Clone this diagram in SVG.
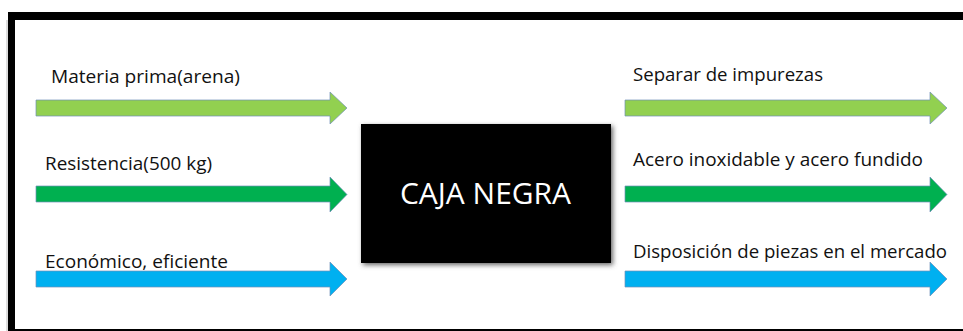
<svg xmlns="http://www.w3.org/2000/svg" width="963" height="331" viewBox="0 0 963 331">
  <defs>
    <style>
      .lbl { font-family: "Open Sans", "Liberation Sans", sans-serif; font-size: 18px; fill: #111111; }
      .box-lbl { font-family: "Open Sans", "Liberation Sans", sans-serif; font-size: 29px; fill: #ffffff; }
      .arr { stroke: #6f8fb8; stroke-width: 1; stroke-opacity: 0.7; stroke-linejoin: miter; }
      .lg { fill: #92D050; }
      .dg { fill: #00B050; }
      .bl { fill: #00B0F0; }
    </style>
    <filter id="glow" x="-10%" y="-15%" width="120%" height="130%">
      <feGaussianBlur in="SourceAlpha" stdDeviation="2.5"/>
      <feOffset dx="1.5" dy="1.5" result="b"/>
      <feFlood flood-color="#555555" flood-opacity="0.9"/>
      <feComposite in2="b" operator="in"/>
      <feMerge><feMergeNode/><feMergeNode in="SourceGraphic"/></feMerge>
    </filter>
  </defs>

  <rect width="963" height="331" fill="#ffffff"/>

  <!-- frame -->
  <g id="frame">
    <rect x="8" y="12" width="955" height="8" fill="#000"/>
    <rect x="8" y="12" width="7" height="319" fill="#000"/>
    <rect x="6.5" y="20" width="1" height="311" fill="#bbbbbb"/>
    <rect x="8" y="329" width="955" height="2" fill="#000"/>
  </g>

  <!-- connectors (block arrows) -->
  <g id="connectors">
    <path class="arr lg" d="M36,100 H330 V92 L347,108 L330,124 V116 H36 Z"/>
    <path class="arr dg" d="M36,186 H330 V177 L347,194.5 L330,212 V202 H36 Z"/>
    <path class="arr bl" d="M36,271 H330 V262 L347,279 L330,296 V287 H36 Z"/>
    <path class="arr lg" d="M625,100 H930 V92 L947,108 L930,124 V116 H625 Z"/>
    <path class="arr dg" d="M625,186 H930 V177 L947,194.5 L930,212 V202 H625 Z"/>
    <path class="arr bl" d="M625,271 H930 V262 L947,279 L930,296 V287 H625 Z"/>
  </g>

  <!-- central node -->
  <g id="caja-negra">
    <rect x="361" y="124" width="250" height="139" fill="#000" filter="url(#glow)"/>
    <text class="box-lbl" x="400" y="204" textLength="171" lengthAdjust="spacingAndGlyphs">CAJA NEGRA</text>
  </g>

  <!-- input labels -->
  <g id="in-materia"><text class="lbl" x="51" y="83" textLength="189" lengthAdjust="spacingAndGlyphs">Materia prima(arena)</text></g>
  <g id="in-resistencia"><text class="lbl" x="45" y="170" textLength="167" lengthAdjust="spacingAndGlyphs">Resistencia(500 kg)</text></g>
  <g id="in-economico"><text class="lbl" x="45" y="268" textLength="183" lengthAdjust="spacingAndGlyphs">Económico, eficiente</text></g>

  <!-- output labels -->
  <g id="out-separar"><text class="lbl" x="633" y="81" textLength="190" lengthAdjust="spacingAndGlyphs">Separar de impurezas</text></g>
  <g id="out-acero"><text class="lbl" x="633" y="166" textLength="290" lengthAdjust="spacingAndGlyphs">Acero inoxidable y acero fundido</text></g>
  <g id="out-disposicion"><text class="lbl" x="633" y="258" textLength="314" lengthAdjust="spacingAndGlyphs">Disposición de piezas en el mercado</text></g>
</svg>
